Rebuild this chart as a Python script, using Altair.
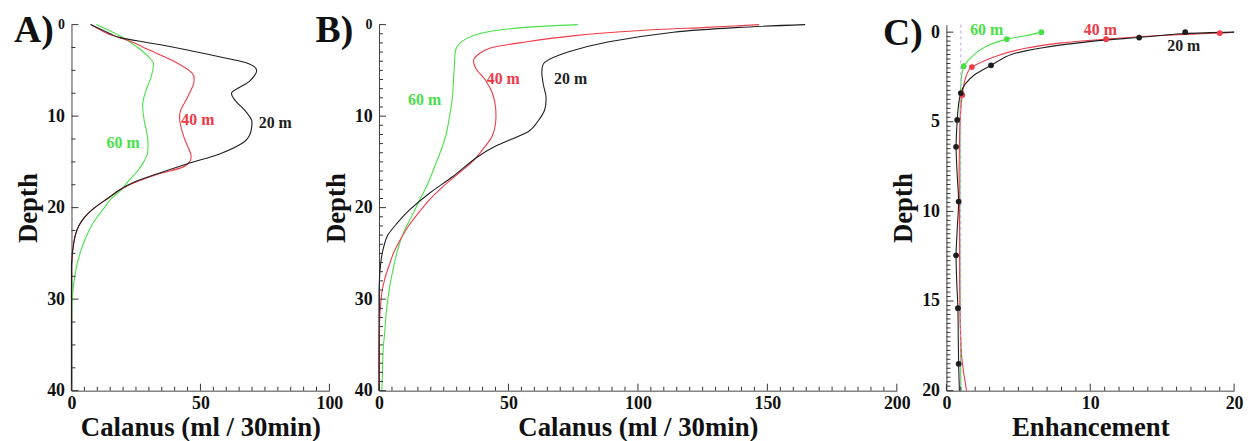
import altair as alt
import pandas as pd

FONT = "Liberation Serif"
SERIES = ["20 m", "40 m", "60 m"]
COLORS = ["#1e1e1e", "#f03a48", "#48e048"]

# ---------------- Panel A : Calanus vs depth ----------------
A_D_20 = [0, 1, 1.45, 2.2, 3.3, 4.2, 5, 6.2, 7.4, 8.3, 9.4, 10.5, 12, 13, 14.1, 15.2, 16.3, 17.2, 18, 19, 20, 21, 22, 23, 24, 25, 26, 27, 40]
A_V_20 = [7.4, 15, 19.2, 34.6, 53.8, 68, 71.8, 69, 62.2, 63.5, 67.3, 69.9, 69.2, 66, 57.7, 45, 33.3, 24.4, 19, 14, 9, 5.2, 2.8, 1.5, 0.8, 0.35, 0.1, 0, 0]
A_D_40 = [0, 1, 1.45, 2, 2.7, 4, 5.3, 6.4, 8, 9.4, 10.5, 12.3, 14.1, 14.9, 15.6, 16.3, 17.2, 18, 19, 20, 21, 22, 23, 24, 25, 26, 27, 40]
A_V_40 = [7.4, 14, 19, 24.5, 29.5, 39.7, 46.8, 47.4, 44.9, 42.3, 42, 43.6, 46.2, 46, 43, 34, 25, 19.2, 14, 9, 5.2, 2.8, 1.5, 0.8, 0.35, 0.1, 0, 0]
A_D_60 = [0, 1.3, 2.75, 4, 4.5, 5.8, 7.25, 8.7, 10.5, 12.3, 14, 15, 16, 17, 18, 19, 20, 21, 22, 23, 24, 25, 26, 27, 28, 29, 30, 31, 32, 33, 40]
A_V_60 = [9.6, 19.2, 26.9, 31.4, 31.8, 30.8, 28.8, 27.6, 28.2, 29.5, 29.5, 28, 25.6, 22.4, 19.5, 15.5, 12.8, 10, 7.7, 6, 4.5, 3.3, 2.3, 1.6, 1, 0.6, 0.3, 0.15, 0.05, 0, 0]
A_LABEL_T = ["20 m", "40 m", "60 m"]
A_LABEL_V = [79, 49, 20]
A_LABEL_D = [10.8, 10.4, 12.9]
A_XTICKS = [0, 50, 100]
A_YTICKS = [0, 10, 20, 30, 40]
A_XMINOR = list(range(0, 101, 5))
A_YMINOR = [i * 2.5 for i in range(17)]

# ---------------- Panel B ----------------
B_D_20 = [0, 0.3, 0.83, 1.9, 3.0, 4.1, 5.2, 6.6, 7.9, 9.3, 10.5, 11.7, 13.3, 14.6, 16.6, 18.4, 20.2, 21.7, 23.1, 24.9, 26.5, 28, 30, 40]
B_V_20 = [164.6, 139, 113.7, 88.3, 73, 64.1, 62.9, 63.5, 64.5, 64, 61.5, 57.6, 44.9, 37.3, 28.5, 19.6, 12, 7, 3.2, 1.3, 0.5, 0.15, 0, 0]
B_D_40 = [0, 0.3, 0.65, 1.2, 1.9, 2.6, 3.7, 4.8, 6.1, 7.5, 9, 10.8, 12.2, 13.3, 14.8, 16.2, 17.7, 19.1, 20.6, 22, 23.5, 24.9, 26.4, 27.8, 29.3, 30.7, 32, 34, 36, 40]
B_V_40 = [146.8, 126.5, 101, 75.6, 56.5, 42.5, 36.8, 37.4, 41.2, 43.8, 45, 45, 43.7, 41, 36.7, 31, 24.7, 19.6, 15.2, 11.4, 8.2, 5.7, 3.8, 2.2, 1.1, 0.6, 0.3, 0.1, 0, 0]
B_D_60 = [0, 0.3, 0.83, 1.56, 2.6, 4.5, 7.4, 8.3, 10.1, 11.9, 13.7, 15.5, 17.3, 19.1, 20.9, 22.7, 24.6, 26.4, 28.2, 30, 31.8, 33.6, 35.5, 37.3, 40]
B_V_60 = [76.8, 56.5, 41.2, 33.6, 29.8, 29.1, 28.5, 28.2, 27.2, 26, 24, 21.5, 19, 15.8, 12.7, 9.5, 7.2, 5.7, 4.4, 3.4, 2.7, 2.2, 1.6, 1.4, 1.1]
B_LABEL_T = ["20 m", "40 m", "60 m"]
B_LABEL_V = [74, 48, 17.6]
B_LABEL_D = [5.9, 5.9, 8.2]
B_XTICKS = [0, 50, 100, 150, 200]
B_YTICKS = [0, 10, 20, 30, 40]
B_XMINOR = list(range(0, 201, 5))
B_YMINOR = list(range(0, 41))

# ---------------- Panel C : Enhancement ----------------
C_D_20 = [0, 0.08, 0.3, 0.5, 0.88, 1.25, 1.85, 2.35, 2.9, 3.4, 4, 4.9, 6.4, 8, 9.45, 11, 12.45, 14, 15.4, 17, 18.5, 20]
C_V_20 = [20, 16.6, 13.3, 10.2, 6.6, 4.5, 3.1, 2.0, 1.3, 1.0, 0.85, 0.75, 0.67, 0.75, 0.85, 0.75, 0.67, 0.72, 0.8, 0.82, 0.85, 0.9]
C_D_40 = [0, 0.05, 0.2, 0.39, 0.6, 0.9, 1.3, 1.95, 2.5, 3.5, 5, 6.5, 8, 10, 12, 14, 16, 17, 18, 19, 20]
C_V_40 = [20, 19, 14.5, 11.1, 8.0, 5.5, 3.6, 1.77, 1.35, 1.1, 0.95, 0.9, 0.88, 0.9, 0.92, 0.92, 0.95, 1.0, 1.05, 1.2, 1.4]
C_D_60 = [0, 0.2, 0.39, 0.7, 1.07, 1.5, 1.9, 2.5, 3.4, 5, 8, 11, 14, 17, 20]
C_V_60 = [6.6, 5.5, 4.2, 3.0, 2.2, 1.6, 1.2, 1.05, 0.97, 0.95, 0.95, 0.93, 0.95, 0.97, 1.0]
CP_D_20 = [0.0, 0.3, 1.85, 3.4, 4.9, 6.4, 9.45, 12.45, 15.4, 18.5]
CP_V_20 = [16.6, 13.4, 3.1, 1.0, 0.75, 0.67, 0.85, 0.67, 0.8, 0.85]
CP_D_40 = [0.05, 0.39, 1.95, 3.5]
CP_V_40 = [19, 11.1, 1.77, 1.1]
CP_D_60 = [0.0, 0.39, 1.9]
CP_V_60 = [6.6, 4.2, 1.2]
C_REF = [1]
C_LABEL_T = ["20 m", "40 m", "60 m"]
C_LABEL_V = [16.5, 10.7, 2.8]
C_LABEL_D = [0.8, -0.1, -0.1]
C_XTICKS = [0, 10, 20]
C_YTICKS = [0, 5, 10, 15, 20]
C_XMINOR = list(range(0, 21))
C_YMINOR = [i * 0.25 for i in range(81)]


def long_df(pairs):
    rows = []
    for s, (ds, vs) in pairs.items():
        for d, v in zip(ds, vs):
            rows.append({"s": s, "d": d, "v": v})
    return pd.DataFrame(rows)


def label_df(ts, vs, ds):
    return pd.DataFrame({"s": ts, "t": ts, "v": vs, "d": ds})


color_scale = alt.Scale(domain=SERIES, range=COLORS)


def panel(lines, labels, xdom, ydom, W, H, xvals, yvals, xminor, yminor,
          xtitle, tag, tag_x, tag_y, points=None, refs=None, small_top=True):
    xs = alt.Scale(domain=xdom, nice=False, zero=False)
    ys = alt.Scale(domain=ydom, reverse=True, nice=False, zero=False)
    lab_size = {"condition": {"test": "datum.value === 0", "value": 14}, "value": 18} if small_top else 18
    xaxis = alt.Axis(values=xvals, ticks=False, grid=False, domainColor="#444", domainWidth=1,
                     labelFont=FONT, labelFontSize=18, labelFontWeight="bold", labelColor="#111",
                     labelPadding=4, labelFlush=False, labelOverlap=False,
                     title=xtitle, titleFont=FONT, titleFontSize=27, titleFontWeight="bold",
                     titleColor="#111", titlePadding=2)
    yaxis = alt.Axis(values=yvals, ticks=False, grid=False, domainColor="#444", domainWidth=1,
                     labelFont=FONT, labelFontSize=lab_size, labelFontWeight="bold", labelColor="#111",
                     labelPadding=7, labelOverlap=False,
                     title="Depth", titleFont=FONT, titleFontSize=27, titleFontWeight="bold",
                     titleColor="#111", titlePadding=4)

    def X(field):
        return alt.X(field, scale=xs, axis=None)

    def Y(field):
        return alt.Y(field, scale=ys, axis=None)

    # main layer carries the only visible axes
    layers = [alt.Chart(lines).mark_line(strokeWidth=1.1, interpolate="cardinal", tension=0.2).encode(
        x=alt.X("v:Q", scale=xs, axis=xaxis), y=alt.Y("d:Q", scale=ys, axis=yaxis),
        color=alt.Color("s:N", scale=color_scale, legend=None),
        order=alt.Order("d:Q"),
        detail="s:N",
    )]
    if refs is not None:
        layers.append(alt.Chart(pd.DataFrame({"v": refs})).mark_rule(
            color="#c7a3e3", strokeDash=[3, 3], strokeWidth=1).encode(x=X("v:Q")))
    if points is not None:
        layers.append(alt.Chart(points).mark_circle(size=34, opacity=1).encode(
            x=X("v:Q"), y=Y("d:Q"),
            color=alt.Color("s:N", scale=color_scale, legend=None)))
    layers.append(alt.Chart(labels).mark_text(font=FONT, fontWeight="bold", fontSize=16).encode(
        x=X("v:Q"), y=Y("d:Q"), text="t:N",
        color=alt.Color("s:N", scale=color_scale, legend=None),
    ))
    # inward major / minor ticks (Mathematica style)
    for sel, size in ((True, 7), (False, 4)):
        dfx = pd.DataFrame({"val": [v for v in xminor if (v in xvals) == sel]})
        layers.append(alt.Chart(dfx).mark_rule(color="#333", strokeWidth=1).encode(
            x=X("val:Q"), y=alt.value(H), y2=alt.value(H - size)))
        dfy = pd.DataFrame({"val": [v for v in yminor if (v in yvals) == sel]})
        layers.append(alt.Chart(dfy).mark_rule(color="#333", strokeWidth=1).encode(
            y=Y("val:Q"), x=alt.value(0), x2=alt.value(size)))
    layers.append(alt.Chart(pd.DataFrame({"t": [tag]})).mark_text(
        align="left", baseline="alphabetic", font=FONT, fontWeight="bold", fontSize=38, color="#111"
    ).encode(text="t:N", x=alt.value(tag_x), y=alt.value(tag_y)))
    return alt.layer(*layers).resolve_axis(x="independent", y="independent").properties(width=W, height=H)


H = 369
linesA = long_df({"60 m": (A_D_60, A_V_60), "40 m": (A_D_40, A_V_40), "20 m": (A_D_20, A_V_20)})
linesB = long_df({"60 m": (B_D_60, B_V_60), "40 m": (B_D_40, B_V_40), "20 m": (B_D_20, B_V_20)})
linesC = long_df({"60 m": (C_D_60, C_V_60), "40 m": (C_D_40, C_V_40), "20 m": (C_D_20, C_V_20)})
pointsC = long_df({"40 m": (CP_D_40, CP_V_40), "20 m": (CP_D_20, CP_V_20), "60 m": (CP_D_60, CP_V_60)})

chartA = panel(linesA, label_df(A_LABEL_T, A_LABEL_V, A_LABEL_D), [0, 100], [0, 40], 260, H,
               A_XTICKS, A_YTICKS, A_XMINOR, A_YMINOR,
               "Calanus (ml / 30min)", "A)", -58, 18)
chartB = panel(linesB, label_df(B_LABEL_T, B_LABEL_V, B_LABEL_D), [0, 200], [0, 40], 522, H,
               B_XTICKS, B_YTICKS, B_XMINOR, B_YMINOR,
               "Calanus (ml / 30min)", "B)", -64, 18)
chartC = panel(linesC, label_df(C_LABEL_T, C_LABEL_V, C_LABEL_D), [0, 20], [-0.42, 20], 290, H,
               C_XTICKS, C_YTICKS, C_XMINOR, C_YMINOR,
               "Enhancement", "C)", -64, 21, points=pointsC, refs=C_REF, small_top=False)

chart = alt.hconcat(chartA, chartB, chartC, spacing=50, bounds="flush").properties(
    padding={"left": 6, "top": 3, "right": 5, "bottom": 0}
).configure_view(stroke=None)

chart.save("out.html", embed_options={"renderer": "svg", "actions": False})
